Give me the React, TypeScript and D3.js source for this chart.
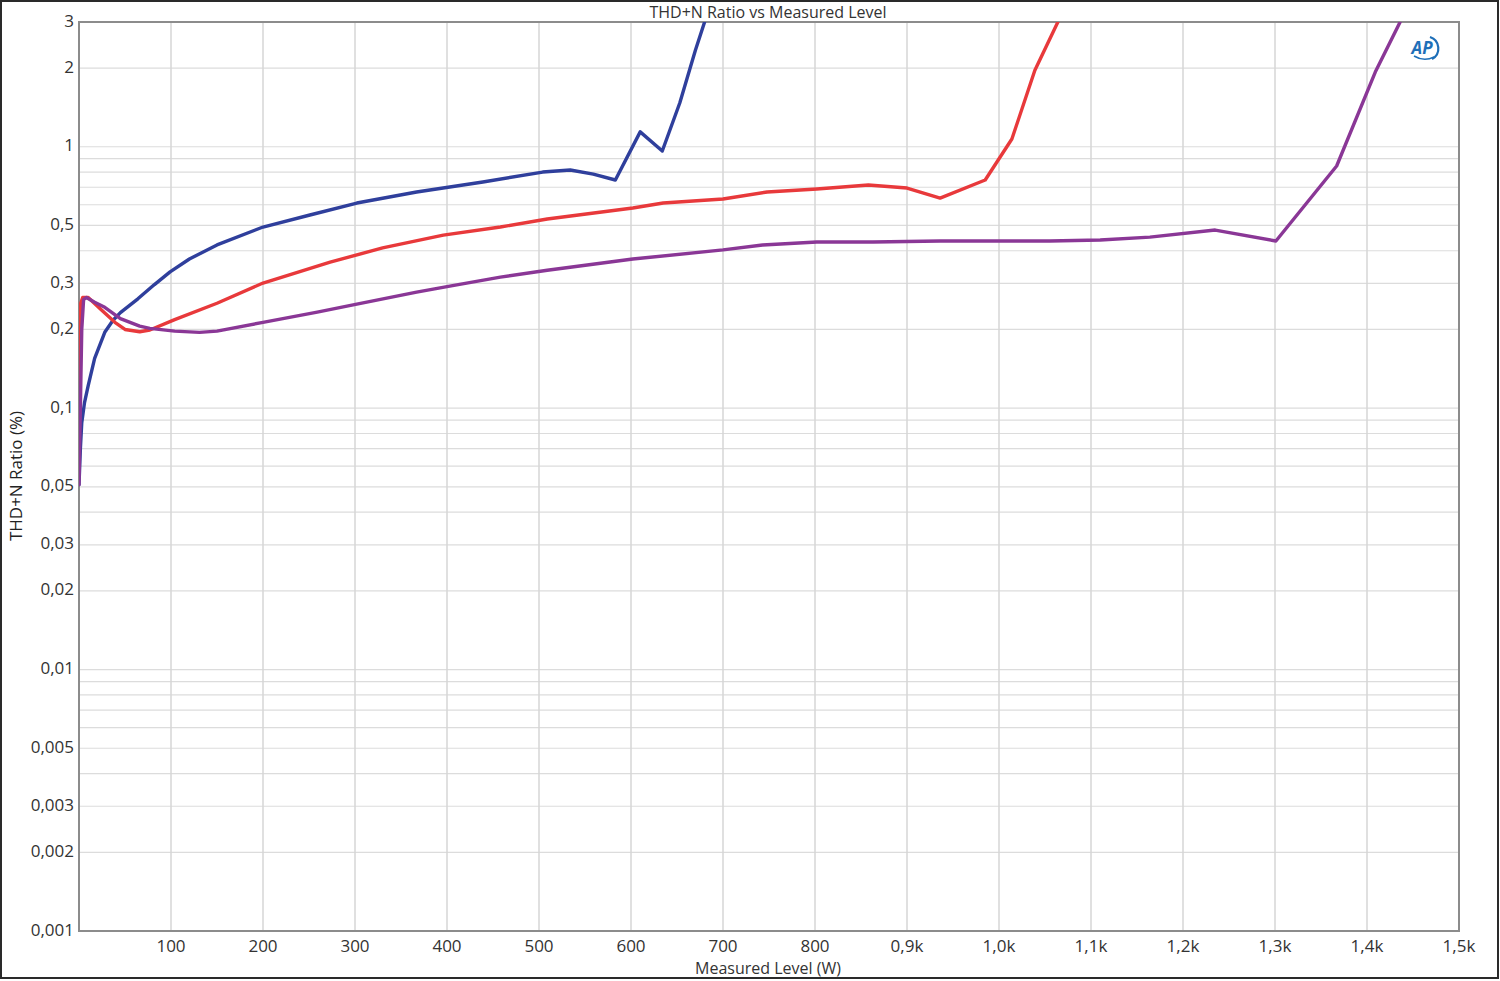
import React from "react";
import * as d3 from "d3";

const W = 1500;
const H = 981;
const margin = { left: 79, right: 40, top: 22, bottom: 50 };

const xTicks = [100, 200, 300, 400, 500, 600, 700, 800, 900, 1000, 1100, 1200, 1300, 1400, 1500];
const xTickLabels = ["100", "200", "300", "400", "500", "600", "700", "800", "0,9k", "1,0k", "1,1k", "1,2k", "1,3k", "1,4k", "1,5k"];
const yTicks = [3, 2, 1, 0.5, 0.3, 0.2, 0.1, 0.05, 0.03, 0.02, 0.01, 0.005, 0.003, 0.002, 0.001];
const yTickLabels = ["3", "2", "1", "0,5", "0,3", "0,2", "0,1", "0,05", "0,03", "0,02", "0,01", "0,005", "0,003", "0,002", "0,001"];

// [Measured level (W), THD+N (%)]
const blueSeries: [number, number][] = [
  [0, 0.051], [1.5, 0.07], [3, 0.088], [6, 0.105], [10, 0.122], [17, 0.155], [28, 0.195], [37, 0.217], [45, 0.232],
  [64, 0.262], [82, 0.297], [99, 0.332], [120, 0.372], [150, 0.421], [200, 0.493], [251, 0.548], [302, 0.609],
  [367, 0.671], [439, 0.733], [504, 0.8], [534, 0.815], [559, 0.786], [583, 0.746], [610, 1.14], [634, 0.963],
  [653, 1.47], [670, 2.34], [680, 3.0],
];

const redSeries: [number, number][] = [
  [0, 0.1], [1.5, 0.25], [4, 0.265], [10, 0.265], [23, 0.24], [39, 0.213], [50, 0.2], [66, 0.196], [77, 0.199],
  [104, 0.218], [150, 0.252], [200, 0.301], [273, 0.362], [330, 0.41], [396, 0.459], [458, 0.493], [509, 0.529],
  [602, 0.583], [635, 0.609], [700, 0.631], [748, 0.671], [802, 0.689], [858, 0.714], [900, 0.695], [936, 0.636],
  [985, 0.746], [1014, 1.07], [1039, 1.96], [1064, 3.0],
];

const purpleSeries: [number, number][] = [
  [0, 0.051], [3, 0.2], [5, 0.26], [8, 0.265], [17, 0.254], [28, 0.243], [45, 0.22], [66, 0.206], [77, 0.202],
  [104, 0.197], [131, 0.195], [150, 0.197], [200, 0.213], [259, 0.233], [302, 0.25], [367, 0.278], [403, 0.293],
  [458, 0.317], [509, 0.337], [602, 0.372], [700, 0.403], [743, 0.421], [802, 0.432], [863, 0.432], [936, 0.436],
  [1001, 0.436], [1055, 0.436], [1110, 0.44], [1164, 0.451], [1235, 0.48], [1301, 0.436], [1367, 0.844],
  [1409, 1.93], [1436, 3.0],
];

const series = [
  { name: "blue", data: blueSeries, color: "#2f3f9c" },
  { name: "red", data: redSeries, color: "#e8393b" },
  { name: "purple", data: purpleSeries, color: "#8a3796" },
];

export default function App() {
  const x = d3.scaleLinear().domain([0, 1500]).range([margin.left, W - margin.right - 1]);
  const y = d3.scaleLog().domain([0.001, 3]).range([H - margin.bottom, margin.top]);

  const line = d3
    .line<[number, number]>()
    .x((d) => x(d[0]))
    .y((d) => y(d[1]));

  const minorY: number[] = [];
  for (const dec of [0.001, 0.01, 0.1, 1]) {
    for (let k = 1; k <= 9; k++) {
      const v = dec * k;
      if (v <= 3.0001) minorY.push(v);
    }
  }

  const x0 = x(0);
  const x1 = x(1500);
  const y0 = y(0.001);
  const y1 = y(3);
  const font = "'Open Sans', 'DejaVu Sans', sans-serif";

  return (
    <svg
      width={W}
      height={H}
      style={{ position: "absolute", left: 0, top: 0, background: "#fff" }}
      fontFamily={font}
    >
      <defs>
        <clipPath id="plotClip">
          <rect x={x0} y={y1} width={x1 - x0} height={y0 - y1} />
        </clipPath>
      </defs>
      <rect x={0} y={0} width={W} height={H} fill="#fff" />
      <rect x={1} y={1} width={W - 3} height={H - 4} fill="none" stroke="#2a2a2a" strokeWidth={2} />

      {/* horizontal grid */}
      {minorY.map((v, i) => (
        <line key={"hy" + i} x1={x0} x2={x1} y1={y(v)} y2={y(v)} stroke="#dcdcdc" strokeWidth={1.2} />
      ))}
      {/* vertical grid */}
      {xTicks.map((v, i) => (
        <line key={"vx" + i} x1={x(v)} x2={x(v)} y1={y1} y2={y0} stroke="#d6d6d6" strokeWidth={1.5} />
      ))}

      {/* frame */}
      <rect x={x0} y={y1} width={x1 - x0} height={y0 - y1} fill="none" stroke="#8c8c8c" strokeWidth={2} />

      {/* series */}
      <g clipPath="url(#plotClip)">
        {series.map((s) => (
          <path
            key={s.name}
            d={line(s.data) || ""}
            fill="none"
            stroke={s.color}
            strokeWidth={3.4}
            strokeLinejoin="round"
            strokeLinecap="round"
          />
        ))}
      </g>

      {/* y ticks */}
      {yTicks.map((v, i) => (
        <text
          key={"yt" + i}
          x={x0 - 5}
          y={y(v)}
          textAnchor="end"
          dominantBaseline="middle"
          fontSize={17}
          fill="#333"
        >
          {yTickLabels[i]}
        </text>
      ))}
      {/* x ticks */}
      {xTicks.map((v, i) => (
        <text key={"xt" + i} x={x(v)} y={y0 + 21} textAnchor="middle" fontSize={17} fill="#333">
          {xTickLabels[i]}
        </text>
      ))}

      {/* titles */}
      <text x={768} y={18} textAnchor="middle" fontSize={16} fill="#333">
        THD+N Ratio vs Measured Level
      </text>
      <text x={768} y={974} textAnchor="middle" fontSize={16} fill="#333">
        Measured Level (W)
      </text>
      <text
        transform={`translate(22, ${476}) rotate(-90)`}
        textAnchor="middle"
        fontSize={17}
        fill="#222"
      >
        THD+N Ratio (%)
      </text>

      {/* AP logo */}
      <g transform="translate(1426, 48)">
        <path d="M 4 -11 A 12 12 0 0 1 6 11" fill="none" stroke="#1e6fb8" strokeWidth={2.2} />
        <path d="M -12 8 Q -2 14 8 9" fill="none" stroke="#1e6fb8" strokeWidth={1.5} />
        <text x={-4} y={6} textAnchor="middle" fontSize={17} fontWeight="bold" fontStyle="italic" fill="#1e6fb8">
          AP
        </text>
      </g>
    </svg>
  );
}
